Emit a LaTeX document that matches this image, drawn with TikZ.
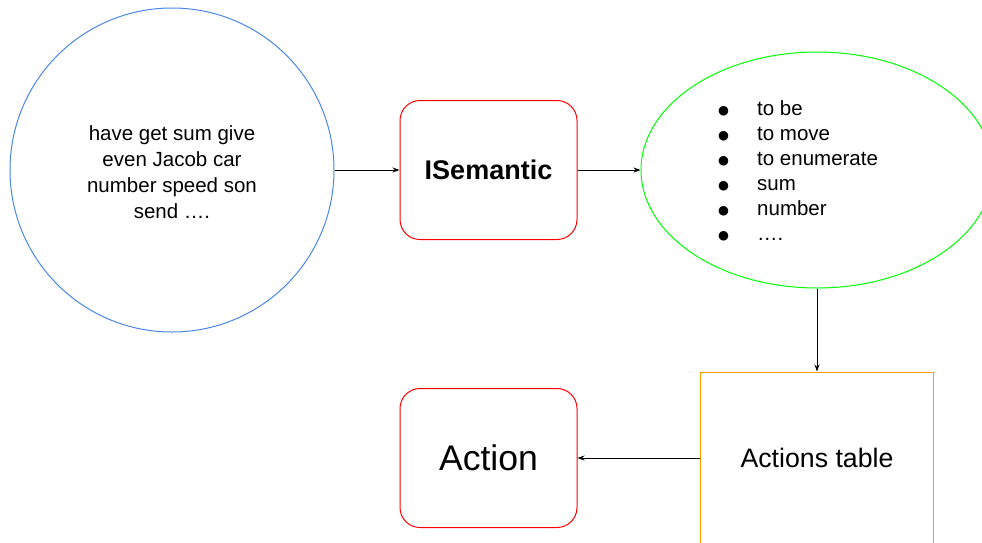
\documentclass[tikz,border=0pt]{standalone}
\usepackage{fontspec}
\setmainfont{Liberation Sans}
\newfontfamily\symfont{DejaVu Sans}
\usetikzlibrary{arrows.meta,shapes.geometric}

\definecolor{ringblue}{HTML}{4A86E8}
\definecolor{boxred}{HTML}{FF0000}
\definecolor{ovalgreen}{HTML}{00FF00}
\definecolor{tableorange}{HTML}{FF9900}

\newcommand{\blt}{\makebox[39pt][l]{\raisebox{0.5pt}{\symfont\fontsize{12.5}{12.5}\selectfont ●}}}

\begin{document}
\begin{tikzpicture}[x=1pt,y=-1pt,
  stage/.style={draw=boxred, line width=1pt, rounded corners=20pt,
    minimum width=177pt, minimum height=139pt, inner sep=0pt},
  link/.style={draw=black, line width=0.9pt, -{Stealth[length=7pt,width=5pt]}},
  bodytext/.style={font=\fontsize{20.5}{26}\selectfont}]
  \useasboundingbox (0,0) rectangle (982,542);
  \clip (0,0) rectangle (982,542);

  % word cloud circle
  \node[circle, draw=ringblue, line width=1pt, minimum size=324pt, inner sep=0pt] (words) at (172,170) {};
  \node[align=center, bodytext, inner sep=0pt] (wordlist) at (172,172)
        {have get sum give\\even Jacob car\\number speed son\\send ….};

  % semantic stage
  \node[stage, font=\bfseries\fontsize{27}{32}\selectfont] (sem) at (488.5,170) {ISemantic};

  % verbs oval and its list
  \node[ellipse, draw=ovalgreen, line width=1pt, minimum width=352pt,
        minimum height=236pt, inner sep=0pt] (verbs) at (817,170) {};
  \node[anchor=west, align=left, inner sep=0pt,
        font=\fontsize{20.5}{25}\selectfont] (list) at (718,171)
        {\blt to be\\\blt to move\\\blt to enumerate\\\blt sum\\\blt number\\\blt ….};

  % actions table
  \node[draw=tableorange, line width=1pt, minimum width=233pt, minimum height=172pt,
        inner sep=0pt, font=\fontsize{26.7}{32}\selectfont] (table) at (817,458) {Actions table};

  % resulting action
  \node[stage, font=\fontsize{35.6}{42}\selectfont] (action) at (488.5,458) {Action};

  % connectors
  \draw[link] (words) -- (sem);
  \draw[link] (sem) -- (verbs);
  \draw[link] (verbs.south) -- (table.north);
  \draw[link] (table) -- (action);
\end{tikzpicture}
\end{document}
